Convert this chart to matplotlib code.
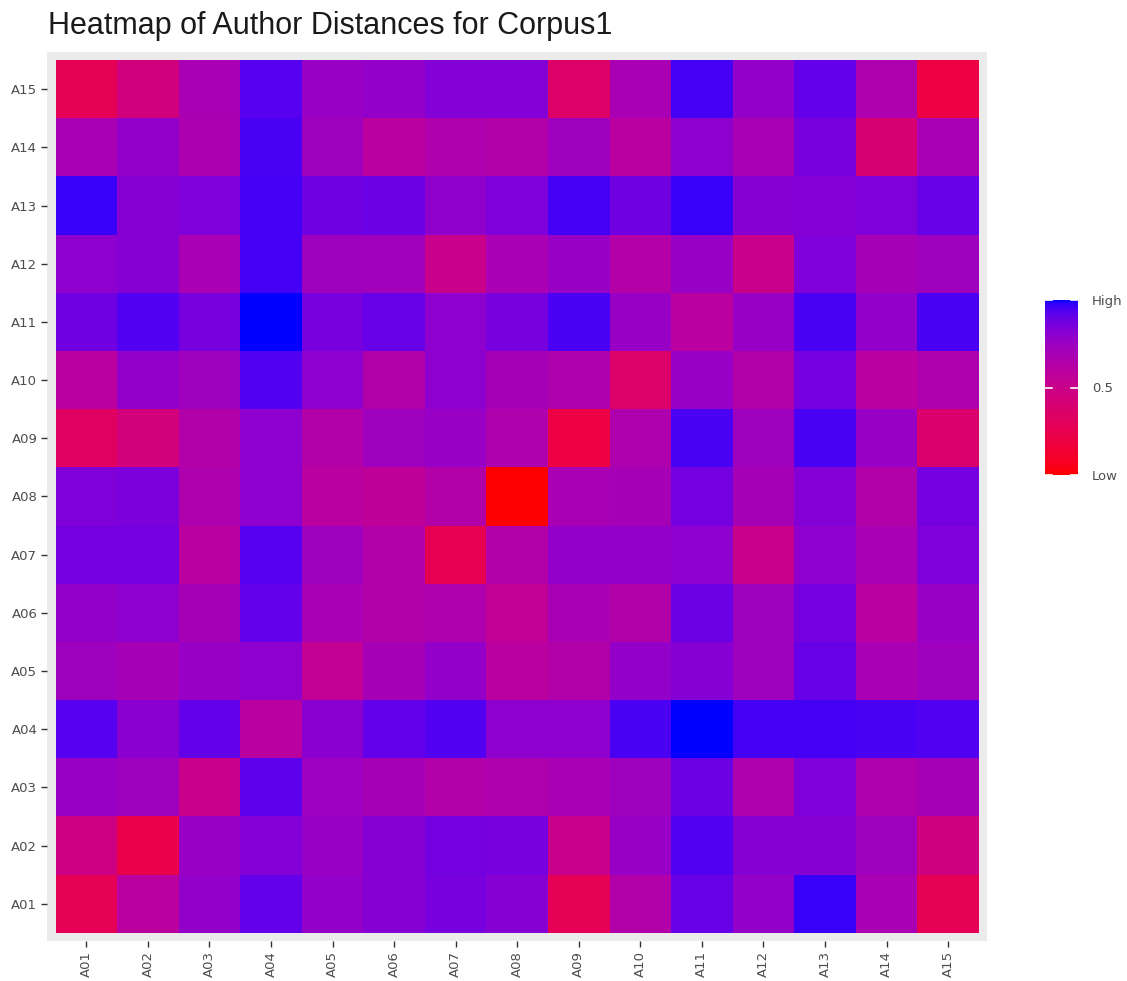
import numpy as np
import matplotlib
matplotlib.use("Agg")
import matplotlib.pyplot as plt
from matplotlib.colors import ListedColormap

authors = ["A01", "A02", "A03", "A04", "A05", "A06", "A07", "A08",
           "A09", "A10", "A11", "A12", "A13", "A14", "A15"]

# Rows listed from top (A15) to bottom (A01); columns A01..A15
row_A15 = [0.28, 0.45, 0.68, 0.93, 0.76, 0.78, 0.83, 0.83, 0.35, 0.68, 0.96, 0.78, 0.91, 0.66, 0.20]
row_A14 = [0.68, 0.78, 0.67, 0.95, 0.73, 0.60, 0.66, 0.64, 0.73, 0.60, 0.80, 0.68, 0.86, 0.40, 0.68]
row_A13 = [0.97, 0.82, 0.84, 0.96, 0.88, 0.89, 0.79, 0.84, 0.96, 0.88, 0.97, 0.82, 0.83, 0.84, 0.90]
row_A12 = [0.80, 0.82, 0.68, 0.96, 0.73, 0.72, 0.50, 0.68, 0.76, 0.63, 0.76, 0.50, 0.84, 0.70, 0.73]
row_A11 = [0.88, 0.94, 0.86, 1.00, 0.86, 0.90, 0.80, 0.86, 0.95, 0.76, 0.60, 0.76, 0.95, 0.78, 0.95]
row_A10 = [0.60, 0.78, 0.73, 0.94, 0.80, 0.64, 0.80, 0.70, 0.66, 0.36, 0.76, 0.64, 0.87, 0.60, 0.66]
row_A09 = [0.33, 0.44, 0.64, 0.80, 0.64, 0.73, 0.76, 0.66, 0.20, 0.66, 0.95, 0.73, 0.95, 0.76, 0.38]
row_A08 = [0.84, 0.85, 0.66, 0.80, 0.60, 0.57, 0.64, 0.00, 0.68, 0.70, 0.87, 0.70, 0.83, 0.64, 0.87]
row_A07 = [0.87, 0.87, 0.60, 0.93, 0.73, 0.64, 0.25, 0.64, 0.78, 0.78, 0.80, 0.50, 0.80, 0.68, 0.84]
row_A06 = [0.78, 0.80, 0.70, 0.91, 0.68, 0.64, 0.66, 0.56, 0.68, 0.64, 0.89, 0.73, 0.87, 0.60, 0.76]
row_A05 = [0.73, 0.70, 0.76, 0.80, 0.55, 0.70, 0.78, 0.60, 0.64, 0.78, 0.82, 0.73, 0.90, 0.68, 0.73]
row_A04 = [0.93, 0.81, 0.91, 0.60, 0.81, 0.91, 0.94, 0.80, 0.80, 0.95, 1.00, 0.96, 0.96, 0.95, 0.94]
row_A03 = [0.76, 0.73, 0.50, 0.92, 0.74, 0.70, 0.64, 0.66, 0.68, 0.73, 0.89, 0.66, 0.84, 0.66, 0.70]
row_A02 = [0.48, 0.23, 0.76, 0.83, 0.76, 0.82, 0.87, 0.86, 0.50, 0.76, 0.94, 0.82, 0.82, 0.73, 0.46]
row_A01 = [0.28, 0.60, 0.78, 0.91, 0.78, 0.82, 0.86, 0.82, 0.28, 0.64, 0.90, 0.78, 0.97, 0.68, 0.28]

rows_bottom_up = [row_A01, row_A02, row_A03, row_A04, row_A05, row_A06, row_A07,
                  row_A08, row_A09, row_A10, row_A11, row_A12, row_A13, row_A14, row_A15]
Z = np.array(rows_bottom_up)

legend_ticks = [0.0, 0.5, 1.0]
legend_labels = ["Low", "0.5", "High"]


# ---- red -> blue colormap interpolated in CIE Lab (like ggplot2) ----
def srgb_to_lin(c):
    c = np.asarray(c, float)
    return np.where(c <= 0.04045, c / 12.92, ((c + 0.055) / 1.055) ** 2.4)


def lin_to_srgb(c):
    c = np.clip(c, 0, 1)
    return np.where(c <= 0.0031308, 12.92 * c, 1.055 * c ** (1 / 2.4) - 0.055)


M = np.array([[0.4124, 0.3576, 0.1805],
              [0.2126, 0.7152, 0.0722],
              [0.0193, 0.1192, 0.9505]])
Minv = np.linalg.inv(M)
WP = np.array([0.95047, 1.0, 1.08883])


def f(t):
    d = 6 / 29
    return np.where(t > d ** 3, np.cbrt(t), t / (3 * d * d) + 4 / 29)


def finv(t):
    d = 6 / 29
    return np.where(t > d, t ** 3, 3 * d * d * (t - 4 / 29))


def rgb_to_lab(rgb):
    xyz = M @ srgb_to_lin(rgb) / WP
    fx, fy, fz = f(xyz)
    return np.array([116 * fy - 16, 500 * (fx - fy), 200 * (fy - fz)])


def lab_to_rgb(lab):
    L, a, b = lab
    fy = (L + 16) / 116
    fx = fy + a / 500
    fz = fy - b / 200
    xyz = np.array([finv(fx), finv(fy), finv(fz)]) * WP
    return lin_to_srgb(Minv @ xyz)


lab_lo = rgb_to_lab([1, 0, 0])
lab_hi = rgb_to_lab([0, 0, 1])
cols = [np.clip(lab_to_rgb(lab_lo + (lab_hi - lab_lo) * t), 0, 1) for t in np.linspace(0, 1, 256)]
cmap = ListedColormap(cols)

# ---- figure ----
fig = plt.figure(figsize=(11.27, 9.81), dpi=100)
ax = fig.add_axes([0.0417, 0.0408, 0.8345, 0.9062])
ax.set_facecolor("#EBEBEB")
n = len(authors)
x = np.arange(n)
ax.pcolormesh(np.arange(n + 1) - 0.5, np.arange(n + 1) - 0.5, Z, cmap=cmap,
              vmin=0, vmax=1, shading="flat", antialiased=False)
pad = 0.14
ax.set_xlim(-0.5 - pad, n - 0.5 + pad)
ax.set_ylim(-0.5 - pad, n - 0.5 + pad)
ax.set_xticks(x)
ax.set_xticklabels(authors, rotation=90)
ax.set_yticks(x)
ax.set_yticklabels(authors)
ax.tick_params(axis="both", length=4, width=1, color="#333333",
               labelsize=9.5, labelcolor="#4D4D4D", pad=3)
for s in ax.spines.values():
    s.set_visible(False)

fig.text(0.043, 0.973, "Heatmap of Author Distances for Corpus1",
         fontsize=22, family="Liberation Sans", color="#1A1A1A", va="center", ha="left")

# colorbar
cax = fig.add_axes([1045 / 1127, 1 - 475 / 981, 33 / 1127, 175 / 981])
grad = np.linspace(0, 1, 256).reshape(-1, 1)
cax.imshow(grad, cmap=cmap, aspect="auto", origin="lower", extent=[0, 1, 0, 1])
cax.set_xlim(0, 1)
cax.set_ylim(0, 1)
for t in legend_ticks:
    cax.plot([0, 0.2], [t, t], color="white", lw=1.2, clip_on=False)
    cax.plot([0.8, 1], [t, t], color="white", lw=1.2, clip_on=False)
cax.set_xticks([])
cax.yaxis.tick_right()
cax.set_yticks(legend_ticks)
cax.set_yticklabels(legend_labels)
cax.tick_params(axis="y", length=0, labelsize=9.5, labelcolor="#4D4D4D", pad=10)
for s in cax.spines.values():
    s.set_visible(False)

fig.savefig("out.png", dpi=100, facecolor="white")
